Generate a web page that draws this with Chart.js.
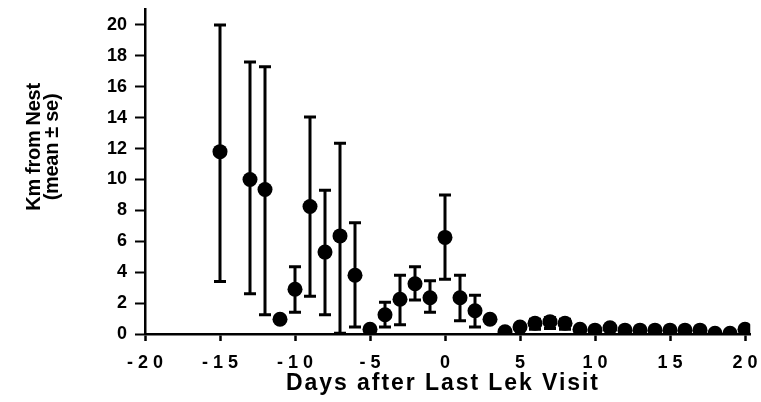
<!DOCTYPE html>
<html>
<head>
<meta charset="utf-8">
<script src="https://cdn.jsdelivr.net/npm/chart.js@4"></script>
<style>
  html, body { margin: 0; padding: 0; background: #fff; }
  #wrap { width: 761px; height: 402px; }
</style>
</head>
<body>
<div id="wrap"><canvas id="grafico" width="761" height="402"></canvas></div>
<script>
// days relative to the last lek visit
const dias = [-15, -13, -12, -11, -10, -9, -8, -7, -6, -5, -4, -3, -2, -1, 0, 1, 2, 3, 4, 5,
              6, 7, 8, 9, 10, 11, 12, 13, 14, 15, 16, 17, 18, 19, 20];
// mean km from nest
const medias = [11.8, 10.0, 9.35, 0.95, 2.9, 8.25, 5.3, 6.35, 3.8, 0.3, 1.25, 2.25, 3.25, 2.35, 6.25, 2.35, 1.5, 0.95, 0.15, 0.45,
                0.7, 0.8, 0.7, 0.3, 0.25, 0.4, 0.25, 0.25, 0.25, 0.25, 0.25, 0.25, 0.05, 0.05, 0.3];
// mean + se / mean - se (null = no bar visible)
const superior = [20.0, 17.6, 17.3, null, 4.35, 14.05, 9.3, 12.35, 7.2, null, 2.05, 3.8, 4.35, 3.45, 9.0, 3.8, 2.5, null, null, null,
                  0.95, 1.05, 0.95, null, null, null, null, null, null, null, null, null, null, null, null];
const inferior = [3.4, 2.6, 1.25, null, 1.4, 2.45, 1.25, 0.05, 0.45, null, 0.45, 0.6, 2.2, 1.4, 3.55, 0.85, 0.45, null, null, null,
                  0.3, 0.35, 0.3, null, null, null, null, null, null, null, null, null, null, null, null];

const ticksX = [-20, -15, -10, -5, 0, 5, 10, 15, 20];
const ticksY = [0, 2, 4, 6, 8, 10, 12, 14, 16, 18, 20];

const fuente = '"Liberation Sans", Arial, sans-serif';

// draws the +-se bars under the points
const barrasError = {
    id: 'barrasError',
    beforeDatasetsDraw(chart) {
        const ctx = chart.ctx;
        const x = chart.scales.x, y = chart.scales.y;
        ctx.save();
        ctx.strokeStyle = '#000';
        ctx.lineWidth = 3;
        for (let i = 0; i < dias.length; i++) {
            if (superior[i] == null) continue;
            const px = x.getPixelForValue(dias[i]);
            const top = y.getPixelForValue(superior[i]);
            const bot = y.getPixelForValue(inferior[i]);
            ctx.beginPath();
            ctx.moveTo(px, top); ctx.lineTo(px, bot);
            ctx.moveTo(px - 6, top); ctx.lineTo(px + 6, top);
            ctx.moveTo(px - 6, bot); ctx.lineTo(px + 6, bot);
            ctx.stroke();
        }
        ctx.restore();
    }
};

// axis titles (letter spaced like the original)
const titulos = {
    id: 'titulos',
    afterDraw(chart) {
        const ctx = chart.ctx;
        ctx.save();
        ctx.fillStyle = '#000';
        ctx.font = 'bold 20px ' + fuente;
        ctx.letterSpacing = '-0.3px';
        ctx.textAlign = 'center';
        ctx.textBaseline = 'alphabetic';
        ctx.translate(40, 147);
        ctx.rotate(-Math.PI / 2);
        ctx.fillText('Km from Nest', 0, 0);
        ctx.fillText('(mean ± se)', 0, 17.5);
        ctx.restore();

        ctx.save();
        const texto = 'Days after Last Lek Visit';
        ctx.fillStyle = '#000';
        ctx.font = 'bold 23px ' + fuente;
        ctx.letterSpacing = '0px';
        const w = ctx.measureText(texto).width;
        const ancho = 312;
        ctx.letterSpacing = ((ancho - w) / (texto.length - 1)) + 'px';
        ctx.textAlign = 'left';
        ctx.textBaseline = 'alphabetic';
        ctx.fillText(texto, 442 - ancho / 2, 390);
        ctx.restore();
    }
};

const ctx = document.getElementById('grafico').getContext('2d');
const chart = new Chart(ctx, {
    type: 'scatter',
    data: {
        datasets: [{
            data: dias.map((d, i) => ({ x: d, y: medias[i] })),
            backgroundColor: '#000',
            borderWidth: 0,
            pointRadius: 7.5,
            pointHoverRadius: 7.5
        }]
    },
    options: {
        responsive: false,
        animation: false,
        layout: { padding: { top: 9.5, right: 10.75, left: 0, bottom: 0 } },
        plugins: { legend: { display: false }, tooltip: { enabled: false } },
        scales: {
            x: {
                type: 'linear',
                min: -20,
                max: 20.35,
                afterBuildTicks: ax => { ax.ticks = ticksX.map(v => ({ value: v })); },
                afterFit: ax => { ax.height = 68; ax.paddingLeft = 0; ax.paddingRight = 0; },
                border: { display: true, color: '#000', width: 2.5 },
                grid: { drawOnChartArea: false, drawTicks: true, tickLength: 7, tickColor: '#000', tickWidth: 2.5 },
                ticks: {
                    color: '#000',
                    padding: 11,
                    maxRotation: 0,
                    autoSkip: false,
                    font: { family: fuente, size: 18, weight: 'bold' },
                    callback: v => String(v).split('').join(' ')
                }
            },
            y: {
                min: 0,
                max: 21,
                afterBuildTicks: ax => { ax.ticks = ticksY.map(v => ({ value: v })); },
                afterFit: ax => { ax.width = 145; ax.paddingTop = 0; ax.paddingBottom = 0; },
                border: { display: true, color: '#000', width: 2.5 },
                grid: { drawOnChartArea: false, drawTicks: true, tickLength: 10, tickColor: '#000', tickWidth: 2 },
                ticks: {
                    color: '#000',
                    padding: 8,
                    autoSkip: false,
                    font: { family: fuente, size: 18, weight: 'bold' }
                }
            }
        }
    },
    plugins: [barrasError, titulos]
});
</script>
</body>
</html>
